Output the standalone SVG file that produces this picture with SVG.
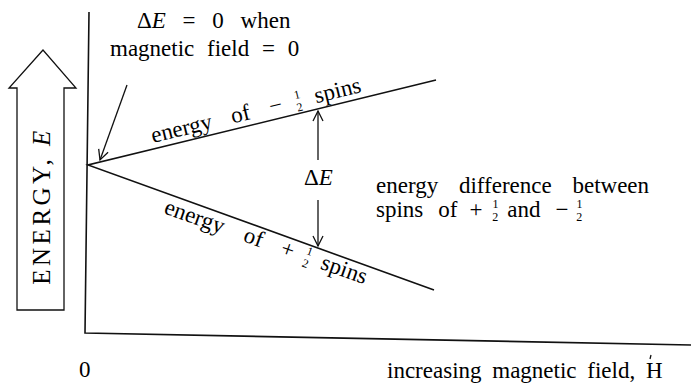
<svg xmlns="http://www.w3.org/2000/svg" width="691" height="385" viewBox="0 0 691 385">
<style>
.t{font-family:"Liberation Serif","Times New Roman",serif;font-size:23px;fill:#000;}
.f{font-size:12px;}
.ln{stroke:#111;stroke-width:1.6;fill:none;}
.thin{stroke:#111;stroke-width:1.3;fill:none;}
</style>
<defs>
<marker id="ah" viewBox="0 0 12 12" refX="11" refY="6" markerWidth="12" markerHeight="12" markerUnits="userSpaceOnUse" orient="auto">
<path d="M1,1 L11,6 L1,11" fill="none" stroke="#111" stroke-width="1.3"/>
</marker>
</defs>
<rect width="691" height="385" fill="#fff"/>
<g id="axes">
<path class="ln" d="M89,12 L85,333 L691,345"/>
</g>
<g id="energy-arrow">
<path class="thin" d="M43,50 L9,88 L17,88 L17,310 L64,310 L64,88 L76,88 Z"/>
<text class="t" transform="translate(50,206) rotate(-90)" text-anchor="middle" style="font-size:25px;letter-spacing:3.5px">ENERGY, <tspan font-style="italic">E</tspan></text>
</g>
<g id="levels">
<path class="ln" d="M436,80 L88,165 L434,290"/>
</g>
<g id="connectors">
<line class="thin" x1="127" y1="85" x2="100" y2="160" marker-end="url(#ah)"/>
<line class="thin" x1="318" y1="160" x2="318" y2="111" marker-end="url(#ah)"/>
<line class="thin" x1="318" y1="200" x2="318" y2="246" marker-end="url(#ah)"/>
</g>
<g id="label-zero">
<text class="t" x="137" y="28" style="word-spacing:11px">Δ<tspan font-style="italic">E</tspan> = 0 when</text>
<text class="t" x="110" y="56" style="word-spacing:7px">magnetic field = 0</text>
</g>
<g id="label-upper">
<text class="t" transform="translate(153,143) rotate(-13.7)">energy<tspan dx="20">of</tspan><tspan dx="20">−</tspan><tspan class="f" dx="14" dy="-9">1</tspan><tspan class="f" dx="-6.2" dy="13">2</tspan><tspan dx="14" dy="-4">spins</tspan></text>
</g>
<g id="label-lower">
<text class="t" transform="translate(163,213) rotate(19.5)">energy<tspan dx="22">of</tspan><tspan dx="20">+</tspan><tspan class="f" dx="12" dy="-9">1</tspan><tspan class="f" dx="-6.2" dy="13">2</tspan><tspan dx="12" dy="-4">spins</tspan></text>
</g>
<g id="label-delta">
<text class="t" x="304" y="185">Δ<tspan font-style="italic">E</tspan></text>
</g>
<g id="label-diff">
<text class="t" x="376" y="193" style="word-spacing:15px">energy difference between</text>
<text class="t" x="376" y="217">spins<tspan dx="15">of</tspan><tspan dx="12">+</tspan><tspan class="f" dx="10" dy="-9">1</tspan><tspan class="f" dx="-6.2" dy="13">2</tspan><tspan dx="9" dy="-4">and</tspan><tspan dx="15">−</tspan><tspan class="f" dx="8" dy="-9">1</tspan><tspan class="f" dx="-6.2" dy="13">2</tspan></text>
</g>
<g id="label-x">
<text class="t" x="79" y="377">0</text>
<text class="t" x="387" y="378" style="word-spacing:5px">increasing magnetic field, H</text>
<line class="thin" x1="651" y1="355" x2="650" y2="359"/>
</g>
</svg>
